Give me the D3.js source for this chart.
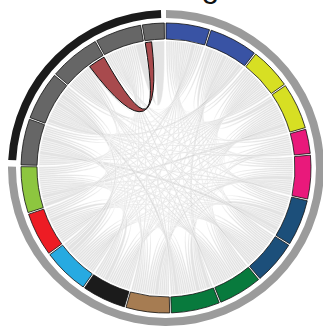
<!DOCTYPE html>
<html>
<head>
<meta charset="utf-8">
<script src="https://cdn.jsdelivr.net/npm/d3@7"></script>
<style>
  body { margin: 0; background: #fff; }
  svg { display: block; }
</style>
</head>
<body>
<script>
// Chart title
const title = "Chord Diagram";

// Groups around the circle, clockwise from 12 o'clock
const groupNames = [
  "B1", "B2", "Y1", "Y2", "P1", "P2", "N1", "N2", "G1", "G2",
  "Br", "Bk", "LB", "Rd", "LG", "K1", "K2", "K3", "K4", "K5"
];
const groupColors = [
  "#3953a4", "#3953a4", "#d7df23", "#d7df23", "#e9197b", "#e9197b",
  "#1c4f7a", "#1c4f7a", "#087a3d", "#087a3d", "#a67c52", "#1b1b1b",
  "#27aae1", "#ed1c24", "#8dc63f", "#666666", "#666666", "#666666",
  "#666666", "#666666"
];

// Outer ring clusters: first and last group index of each
const clusterNames = ["Colour", "Grey"];
const clusterFirst = [0, 15];
const clusterLast = [14, 19];
const clusterColors = ["#9b9b9b", "#1b1b1b"];

// Flow matrix: row i, column j = amount sent from group i to group j
const matrix = [
  [0,1,1,1,0,1,1,1,1,1,1,1,1,1,2,1,1,1,1,0],
  [1,0,1,2,1,1,1,1,1,2,1,1,1,1,1,1,2,1,0,0],
  [1,1,0,1,0,1,1,1,1,1,1,1,1,1,1,1,1,1,1,0],
  [1,2,1,0,1,1,1,1,1,1,1,1,1,1,2,1,1,0,1,0],
  [0,1,0,1,0,1,1,1,1,0,1,0,0,1,0,0,1,1,0,0],
  [1,1,1,1,1,0,1,1,1,1,2,1,1,1,1,1,1,0,1,0],
  [1,1,1,1,1,1,0,1,1,2,1,1,1,1,1,2,1,1,0,0],
  [1,1,1,1,1,1,1,0,1,1,1,1,1,1,1,1,1,1,1,0],
  [1,1,1,1,1,1,1,1,0,1,1,1,1,1,1,1,1,1,1,0],
  [1,2,1,1,0,1,2,1,1,0,1,1,1,1,1,1,2,1,1,0],
  [1,1,1,1,1,2,1,1,1,1,0,1,1,1,1,1,1,0,1,0],
  [1,1,1,1,0,1,1,1,1,1,1,0,1,2,1,1,1,1,1,0],
  [1,1,1,1,0,1,1,1,1,1,1,1,0,1,1,2,2,1,1,0],
  [1,1,1,1,1,1,1,1,1,1,1,2,1,0,1,1,1,0,1,0],
  [2,1,1,2,0,1,1,1,1,1,1,1,1,1,0,1,1,1,1,0],
  [1,1,1,1,0,1,2,1,1,1,1,1,2,1,1,0,1,1,1,0],
  [1,2,1,1,1,1,1,1,1,2,1,1,2,1,1,1,0,0,1,0],
  [1,1,1,0,1,0,1,1,1,1,0,1,1,0,1,1,0,0,1,8],
  [1,0,1,1,0,1,0,1,1,1,1,1,1,1,1,1,1,1,0,4],
  [0,0,0,0,0,0,0,0,0,0,0,0,0,0,0,0,0,3,6,0]
];

// The one flow shown in colour
const highlight = [17, 19];
const highlightColor = "#a84a4d";

const W = 323, H = 328;
const cx = 166, cy = 168;
const arcInner = 129, arcOuter = 145;
const ribbonR = 127;
const ringInner = 150, ringOuter = 158;

const chords = d3.chord().padAngle(0.012)(matrix);

const svg = d3.select("body").append("svg")
  .attr("width", W).attr("height", H);

// title sits above the top edge; only its descenders reach into view
svg.append("text")
  .attr("x", cx).attr("y", -3)
  .attr("text-anchor", "middle")
  .style("font-family", "'Liberation Sans', Arial, sans-serif")
  .style("font-size", "32px")
  .attr("fill", "#111")
  .text(title);

const g = svg.append("g").attr("transform", `translate(${cx},${cy})`);

const isHighlight = c =>
  (c.source.index === highlight[0] && c.target.index === highlight[1]) ||
  (c.source.index === highlight[1] && c.target.index === highlight[0]);

const ribbon = d3.ribbon().radius(ribbonR);

// faded flows
g.append("g").selectAll("path")
  .data(chords.filter(c => !isHighlight(c)))
  .join("path")
  .attr("d", ribbon)
  .attr("fill", "#c8c8c8")
  .attr("fill-opacity", 0.5)
  .attr("stroke", "#fff")
  .attr("stroke-opacity", 0.8)
  .attr("stroke-width", 0.5);

// group arcs
const arc = d3.arc().innerRadius(arcInner).outerRadius(arcOuter);
g.append("g").selectAll("path")
  .data(chords.groups)
  .join("path")
  .attr("d", arc)
  .attr("fill", d => groupColors[d.index])
  .attr("stroke", "#111")
  .attr("stroke-width", 0.8);

// outer cluster ring
const ringArc = d3.arc().innerRadius(ringInner).outerRadius(ringOuter);
const ringInset = [[0, 0], [0.03, 0.02]];
g.append("g").selectAll("path")
  .data(clusterNames.map((name, k) => ({
    name,
    startAngle: chords.groups[clusterFirst[k]].startAngle + ringInset[k][0],
    endAngle: chords.groups[clusterLast[k]].endAngle - ringInset[k][1],
    color: clusterColors[k]
  })))
  .join("path")
  .attr("d", ringArc)
  .attr("fill", d => d.color);

// highlighted flow
g.append("g").selectAll("path")
  .data(chords.filter(isHighlight))
  .join("path")
  .attr("d", ribbon)
  .attr("fill", highlightColor)
  .attr("stroke", "#111")
  .attr("stroke-width", 1);
</script>
</body>
</html>
